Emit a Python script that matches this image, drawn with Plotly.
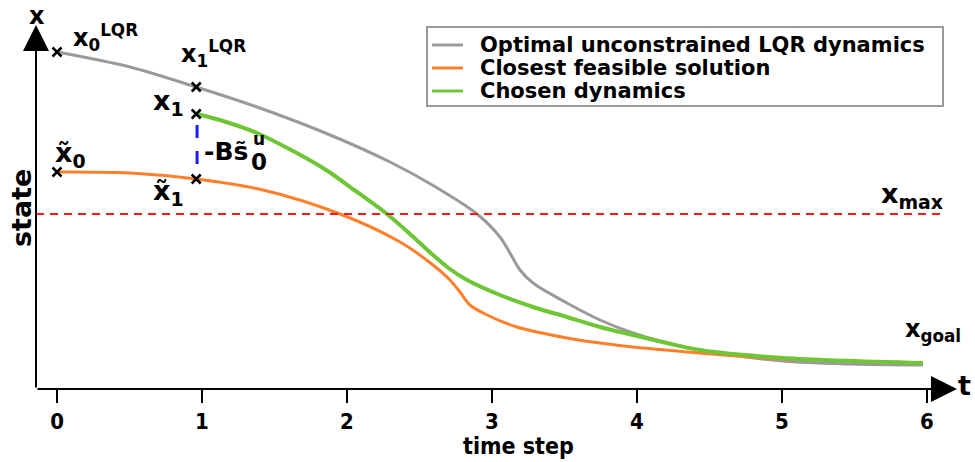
import plotly.graph_objects as go

# ---- data (state in arbitrary units) ----
t_lqr = [0, 0.503, 0.96, 1.379, 1.834, 2.297, 2.6, 2.897, 3.055, 3.124, 3.193, 3.283,
         3.517, 3.745, 3.972, 4.207, 4.434, 5.007, 5.469, 5.972]
x_lqr = [337, 322, 302, 282, 257, 227, 203, 175, 152, 136, 119, 106,
         86, 69, 56, 46, 39, 28, 25, 24]

t_feas = [0, 0.503, 0.96, 1.421, 1.952, 2.366, 2.593, 2.71, 2.779, 2.848, 2.966, 3.172,
          3.517, 3.745, 3.972, 4.434, 4.779, 5.697, 5.972]
x_feas = [217, 216, 210, 199, 175, 147, 124, 109, 97, 84, 74, 62,
          51, 46, 42, 36, 32, 27, 26]

t_chosen = [0.966, 1.145, 1.379, 1.834, 2.05, 2.276, 2.45, 2.593, 2.70, 2.828, 3.055, 3.283,
            3.517, 3.745, 3.972, 4.207, 4.434, 5.007, 5.972]
x_chosen = [275, 268, 256, 221, 199, 175, 153, 134, 121, 109, 94, 82,
            72, 62, 54, 46, 39, 31, 26]

marker_t = [0, 0.96, 0.96, 0, 0.96]
marker_x = [337, 302, 275, 217, 210]

shift_t = [0.966, 0.966]
shift_x = [264, 222]

x_max = 175
t_ticks = [0, 1, 2, 3, 4, 5, 6]
legend_names = ["Optimal unconstrained LQR dynamics", "Closest feasible solution", "Chosen dynamics"]
colors = ["#9a9a9a", "#ff7f2a", "#6ec535"]
widths = [3, 3, 4]

# ---- figure geometry (body margin removed by a post script) ----
W, H = 975, 462
ML, MR, MT, MB = 36, 15, 20, 73
PW, PH = W - ML - MR, H - MT - MB


def px(x):   # screen x -> paper x
    return (x - ML) / PW


def py(y):   # screen y -> paper y
    return (H - MB - y) / PH


FONT = "DejaVu Sans"
COND = "DejaVu Sans Condensed, Liberation Sans Narrow, DejaVu Sans"
fig = go.Figure()

series = [(t_lqr, x_lqr), (t_feas, x_feas), (t_chosen, x_chosen)]
for (tt, xx), name, c, w in zip(series, legend_names, colors, widths):
    fig.add_trace(go.Scatter(x=tt, y=xx, mode="lines", name=name, showlegend=False,
                             line=dict(color=c, width=w, shape="spline", smoothing=0.9)))

fig.add_trace(go.Scatter(x=[-0.145, 6.10], y=[x_max, x_max], mode="lines", showlegend=False,
                         line=dict(color="#ff1a1a", width=2, dash="8px,6px")))
fig.add_trace(go.Scatter(x=shift_t, y=shift_x, mode="lines", showlegend=False,
                         line=dict(color="#1a1aff", width=3, dash="13px,13px")))
fig.add_trace(go.Scatter(x=marker_t, y=marker_x, mode="markers", showlegend=False,
                         marker=dict(symbol="x-thin", size=9, line=dict(color="black", width=2.5))))


def ann(x, y, text, size=24, family=FONT, xanchor="center", **kw):
    fig.add_annotation(x=px(x), y=py(y), xref="paper", yref="paper", text=text, showarrow=False,
                       xanchor=xanchor, yanchor="middle",
                       font=dict(family=family, size=size, color="black", weight="bold"), **kw)


# axis arrows
fig.add_annotation(x=-0.145, y=364, ax=-0.145, ay=0, axref="x", ayref="y", text="",
                   showarrow=True, arrowhead=2, arrowsize=2.6, arrowwidth=2, arrowcolor="black")
fig.add_annotation(x=6.207, y=0, ax=-0.145, ay=0, axref="x", ayref="y", text="",
                   showarrow=True, arrowhead=2, arrowsize=2.6, arrowwidth=2, arrowcolor="black")

ann(37, 16, "x", 24)
ann(964, 385, "t", 27)
ann(21, 208, "state", 27, textangle=-90)
ann(518, 446, "time step", 23, family=COND)

ann(105, 37, "x<sub>0</sub><sup>LQR</sup>", 24)
ann(213, 53, "x<sub>1</sub><sup>LQR</sup>", 24)
ann(168, 102, "x<sub>1</sub>", 27)
ann(70, 154, "x̃<sub>0</sub>", 27)
ann(168, 192, "x̃<sub>1</sub>", 27)
ann(226, 152, "-Bs̃", 25)
ann(259, 139, "u", 17)
ann(259, 162, "0", 23)
ann(912, 195, "x<sub>max</sub>", 27)
ann(933, 330, "x<sub>goal</sub>", 24)

# legend (drawn manually to match the compact row spacing)
fig.add_shape(type="rect", xref="paper", yref="paper", x0=px(427), x1=px(943), y0=py(106), y1=py(27),
              line=dict(color="#9a9a9a", width=2), fillcolor="white", layer="above")
for i, (name, c) in enumerate(zip(legend_names, colors)):
    yy = 45 + 23 * i
    fig.add_shape(type="line", xref="paper", yref="paper", x0=px(432), x1=px(463), y0=py(yy), y1=py(yy),
                  line=dict(color=c, width=3), layer="above")
    ann(478, yy, name, 21, xanchor="left")

fig.update_layout(
    width=W, height=H,
    margin=dict(l=ML, r=MR, t=MT, b=MB),
    plot_bgcolor="white", paper_bgcolor="white",
    font=dict(family=FONT, color="black"),
    showlegend=False,
    xaxis=dict(range=[-0.145, 6.228], tickvals=t_ticks, ticks="outside", ticklen=13,
               tickwidth=2, tickcolor="black", showgrid=False, zeroline=False, showline=False,
               tickfont=dict(family=COND, size=22, color="black", weight="bold")),
    yaxis=dict(range=[0, 369], showticklabels=False, ticks="", showgrid=False,
               zeroline=False, showline=False),
)

fig.write_html("out.html", config={"displayModeBar": False},
               post_script="document.body.style.margin='0';document.body.style.overflow='hidden';")
